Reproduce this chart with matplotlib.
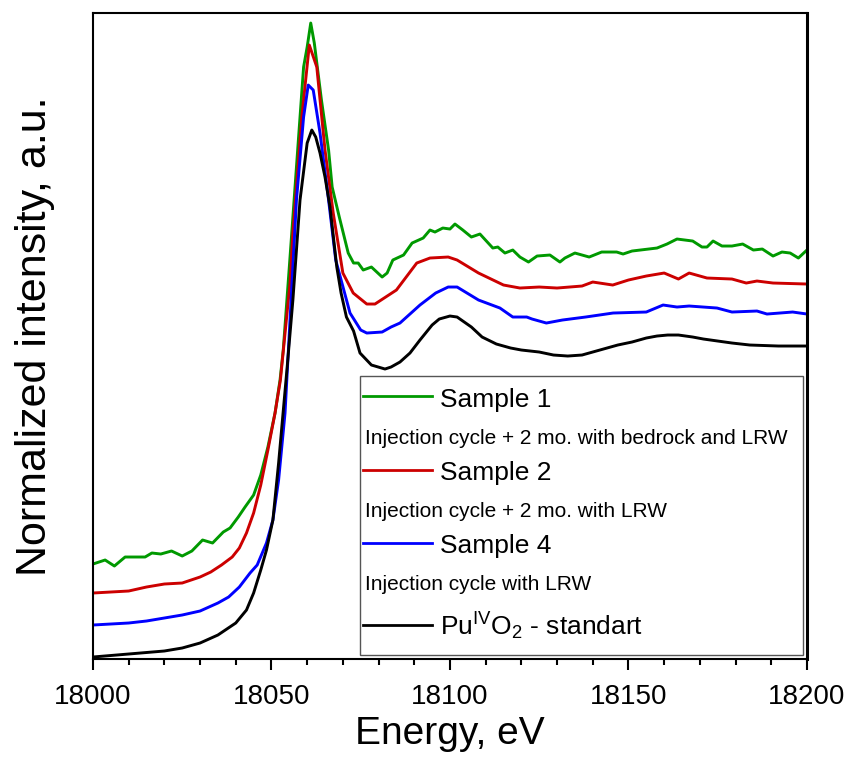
#!/usr/bin/env python3
# -*- coding: utf-8 -*-
# Pu L3-edge XANES: samples vs PuO2 standard

import matplotlib
matplotlib.use("Agg")
import matplotlib.pyplot as plt
from matplotlib.patches import Rectangle
from matplotlib.ticker import MultipleLocator, NullLocator

# energy (eV) / normalized intensity (a.u., curves offset as in the figure)
std_e = [18000, 18010, 18020, 18025, 18030, 18035, 18040, 18043, 18045, 18047,
         18048.6, 18050.4, 18052, 18054.4, 18056, 18058, 18060, 18061.3, 18062.4, 18063.6,
         18065, 18066.4, 18068.3, 18069.5, 18071, 18073, 18074.8, 18078, 18081.8, 18083.5,
         18086, 18088.8, 18091.6, 18095, 18097, 18100, 18102, 18104, 18106, 18109,
         18113, 18117, 18120, 18125, 18129, 18133, 18137, 18140, 18144, 18147,
         18151, 18155, 18158, 18161, 18164, 18168, 18171, 18175, 18179, 18184,
         18192, 18200]
std_i = [0.02, 0.05, 0.08, 0.11, 0.16, 0.24, 0.36, 0.49, 0.66, 0.89,
         1.09, 1.39, 1.96, 2.92, 3.59, 4.59, 5.16, 5.29, 5.22, 5.06,
         4.82, 4.52, 3.92, 3.66, 3.42, 3.28, 3.06, 2.94, 2.90, 2.92,
         2.97, 3.06, 3.19, 3.34, 3.40, 3.43, 3.42, 3.37, 3.32, 3.22,
         3.15, 3.11, 3.09, 3.07, 3.04, 3.03, 3.04, 3.07, 3.11, 3.14,
         3.17, 3.21, 3.23, 3.24, 3.24, 3.22, 3.20, 3.18, 3.16, 3.14,
         3.13, 3.13]

s2_e = [18000, 18005, 18010, 18015, 18020, 18025, 18030, 18033, 18036, 18039,
        18041, 18043, 18045, 18047, 18049, 18051, 18052.5, 18055.2, 18056, 18058.5,
        18060.6, 18062.7, 18065, 18067.3, 18070, 18072.9, 18076.7, 18079, 18085, 18090.7,
        18094.4, 18099.5, 18102, 18108, 18115, 18119.6, 18125, 18130, 18137, 18140,
        18145.6, 18150, 18155, 18160, 18164, 18167, 18172, 18179, 18183, 18186,
        18190.5, 18200]
s2_i = [0.66, 0.67, 0.68, 0.72, 0.75, 0.76, 0.82, 0.87, 0.94, 1.02,
        1.11, 1.26, 1.46, 1.74, 2.09, 2.46, 2.79, 3.76, 4.26, 5.42,
        6.14, 5.92, 5.09, 4.46, 3.86, 3.66, 3.55, 3.55, 3.69, 3.96,
        4.01, 4.02, 3.99, 3.86, 3.74, 3.71, 3.72, 3.71, 3.73, 3.77,
        3.74, 3.79, 3.83, 3.86, 3.80, 3.86, 3.81, 3.80, 3.76, 3.78,
        3.76, 3.75]

s4_e = [18000, 18010, 18015, 18020, 18025, 18030, 18035, 18038, 18041, 18044,
        18046, 18048.6, 18050.4, 18052, 18053.8, 18055, 18057, 18059, 18060.3, 18061.7,
        18063.6, 18066, 18068, 18072, 18075, 18076.7, 18081, 18083.5, 18086, 18091.6,
        18096, 18099.5, 18102, 18108, 18114, 18117.6, 18121.5, 18123, 18127, 18131.5,
        18138, 18145.7, 18155, 18159.7, 18163.6, 18167, 18174.8, 18179, 18186, 18188.8,
        18196, 18200]
s4_i = [0.34, 0.36, 0.38, 0.41, 0.44, 0.48, 0.56, 0.62, 0.72, 0.86,
        0.94, 1.16, 1.39, 1.79, 2.46, 3.26, 4.59, 5.42, 5.74, 5.69,
        5.26, 4.59, 3.99, 3.46, 3.29, 3.26, 3.27, 3.32, 3.36, 3.54,
        3.66, 3.72, 3.72, 3.59, 3.51, 3.42, 3.42, 3.40, 3.36, 3.39,
        3.42, 3.46, 3.47, 3.54, 3.52, 3.53, 3.51, 3.47, 3.48, 3.45,
        3.47, 3.45]

s1_e = [18000, 18003.4, 18006, 18009, 18011.8, 18014.6, 18016.5, 18019, 18022, 18025,
        18027.7, 18030.7, 18033.5, 18036.5, 18038.4, 18040.7, 18042.6, 18045, 18047, 18049,
        18051, 18052.4, 18053.3, 18055, 18057, 18059, 18060, 18061, 18062, 18064,
        18066, 18067, 18069, 18071.5, 18073, 18074.3, 18075.7, 18078, 18081, 18082.4,
        18084, 18087, 18089.4, 18092.5, 18094.4, 18095.8, 18098, 18100, 18101.4, 18103.6,
        18106, 18108.4, 18112, 18113.4, 18115.4, 18117.6, 18119.6, 18122, 18124.4, 18128,
        18130.8, 18132.2, 18135, 18137, 18139, 18142.5, 18146.7, 18148.5, 18151, 18158,
        18160.8, 18163.6, 18168, 18170.6, 18172, 18173.7, 18176.2, 18179, 18182, 18185,
        18187.5, 18190.5, 18193, 18195.3, 18197.6, 18200]
s1_i = [0.95, 0.99, 0.93, 1.02, 1.02, 1.02, 1.06, 1.05, 1.08, 1.03,
        1.08, 1.19, 1.16, 1.27, 1.31, 1.42, 1.52, 1.64, 1.84, 2.12,
        2.46, 2.79, 3.09, 3.92, 4.92, 5.92, 6.12, 6.36, 6.16, 5.59,
        5.09, 4.72, 4.42, 4.06, 3.96, 3.96, 3.89, 3.92, 3.82, 3.86,
        3.99, 4.04, 4.16, 4.21, 4.29, 4.27, 4.31, 4.30, 4.35, 4.29,
        4.22, 4.25, 4.11, 4.12, 4.06, 4.09, 4.02, 3.97, 4.03, 4.04,
        3.97, 4.01, 4.06, 4.04, 4.02, 4.07, 4.07, 4.05, 4.08, 4.11,
        4.15, 4.20, 4.18, 4.12, 4.12, 4.18, 4.13, 4.13, 4.15, 4.09,
        4.10, 4.03, 4.07, 4.06, 4.01, 4.09]

names = ["Sample 1", "Sample 2", "Sample 4", r"Pu$^{\mathrm{IV}}$O$_2$ - standart"]
notes = ["Injection cycle + 2 mo. with bedrock and LRW",
         "Injection cycle + 2 mo. with LRW",
         "Injection cycle with LRW",
         None]
colors = ["#009900", "#cc0000", "#0000ff", "#000000"]


def main():
    plt.rcParams["font.family"] = ["Liberation Sans", "DejaVu Sans"]
    plt.rcParams["mathtext.fontset"] = "custom"
    plt.rcParams["mathtext.rm"] = "Liberation Sans"
    plt.rcParams["mathtext.it"] = "Liberation Sans:italic"

    fig = plt.figure(figsize=(8.53, 7.58), dpi=100)
    ax = fig.add_axes([0.109, 0.1306, 0.837, 0.8522])

    series = [(s1_e, s1_i), (s2_e, s2_i), (s4_e, s4_i), (std_e, std_i)]
    for (e, i), c in zip(series, colors):
        ax.plot(e, i, color=c, lw=2.1)

    ax.set_xlim(18000, 18200)
    ax.set_ylim(0, 6.46)
    ax.xaxis.set_major_locator(MultipleLocator(50))
    ax.xaxis.set_minor_locator(MultipleLocator(10))
    ax.yaxis.set_major_locator(NullLocator())
    ax.tick_params(axis="x", which="major", direction="out", length=8, width=1.5,
                   labelsize=20, pad=10)
    ax.tick_params(axis="x", which="minor", direction="out", length=4.5, width=1.5)
    for sp in ax.spines.values():
        sp.set_linewidth(1.5)
    ax.spines["right"].set_linewidth(2.2)

    ax.set_xlabel("Energy, eV", fontsize=28, labelpad=4)
    ax.set_ylabel("Normalized intensity, a.u.", fontsize=31, labelpad=27)

    # legend box drawn by hand: sample rows have a line, note rows start at the box edge
    ax.add_patch(Rectangle((0.374, 0.006), 0.620, 0.432, transform=ax.transAxes,
                           facecolor="white", edgecolor="#555555", lw=1.0, zorder=5))
    line_y = [0.407, 0.293, 0.180, 0.053]
    name_y = [0.390, 0.277, 0.164, 0.037]
    note_y = [0.333, 0.220, 0.107]
    for k in range(4):
        ax.plot([0.378, 0.475], [line_y[k], line_y[k]], transform=ax.transAxes,
                color=colors[k], lw=2.0, zorder=6)
        ax.text(0.486, name_y[k], names[k], transform=ax.transAxes, fontsize=19,
                va="baseline", ha="left", zorder=6)
        if notes[k]:
            ax.text(0.381, note_y[k], notes[k], transform=ax.transAxes, fontsize=15,
                    va="baseline", ha="left", zorder=6)

    fig.savefig("out.png", dpi=100)
    plt.close(fig)


if __name__ == "__main__":
    main()
